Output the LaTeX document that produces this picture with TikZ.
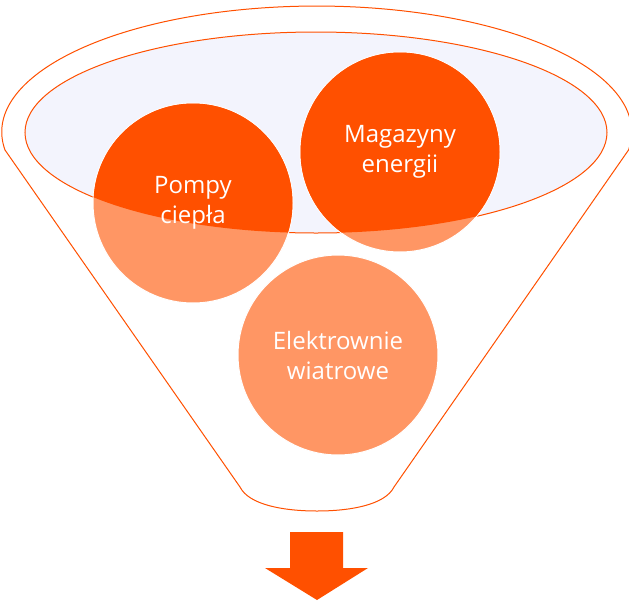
\documentclass[tikz,border=0pt]{standalone}
\usepackage{fontspec}
\setmainfont{Open Sans}
\definecolor{funnelline}{RGB}{255,80,0}
\definecolor{darkball}{RGB}{255,80,0}
\definecolor{lightball}{RGB}{255,150,100}
\definecolor{rimfill}{RGB}{243,244,253}
\tikzset{
	ball/.style={circle,minimum size=150pt,inner sep=0pt,fill=lightball,draw=white,line width=0.75pt,
		text=white,align=center,font=\fontsize{18}{22.5}\selectfont},
	rim/.style={draw=funnelline,line width=0.75pt}
}
\begin{document}
\begin{tikzpicture}[x=0.75pt,y=-0.75pt]
		\useasboundingbox (0,0) rectangle (629,604);
		% funnel body
		\draw[rim,fill=white] (5,150) arc[start angle=171.8,end angle=368.2,x radius=315,y radius=126]
			-- (394,487) .. controls (385,505) and (350,511) .. (317,511)
			.. controls (284,511) and (249,505) .. (240,487) -- cycle;
		\draw[rim,fill=rimfill] (316,132.5) ellipse[x radius=291,y radius=100.5];
		%\draw[white,line width=1.5pt] (316,132.5) ellipse[x radius=289.5,y radius=99];
		% balls
		\node[ball] (pompy) at (193,203) {};
		\node[ball] (magazyny) at (400,152) {};
		\node[ball] (elektrownie) at (338,355) {Elektrownie\\wiatrowe};
		\begin{scope}
			\clip (316,132.5) ellipse[x radius=291,y radius=100.5];
			\foreach \b in {pompy,magazyny}{
				\fill[darkball] (\b.center) circle[radius=99.5];
			}
		\end{scope}
		\node[ball,fill=none,draw=none] at (pompy) {Pompy\\ciepła};
		\node[ball,fill=none,draw=none] at (magazyny) {Magazyny\\energii};
		% arrow
		\fill[darkball] (290,532) -- (343,532) -- (343,568) -- (368,568) -- (317,600)
			-- (265,568) -- (290,568) -- cycle;
\end{tikzpicture}
\end{document}
